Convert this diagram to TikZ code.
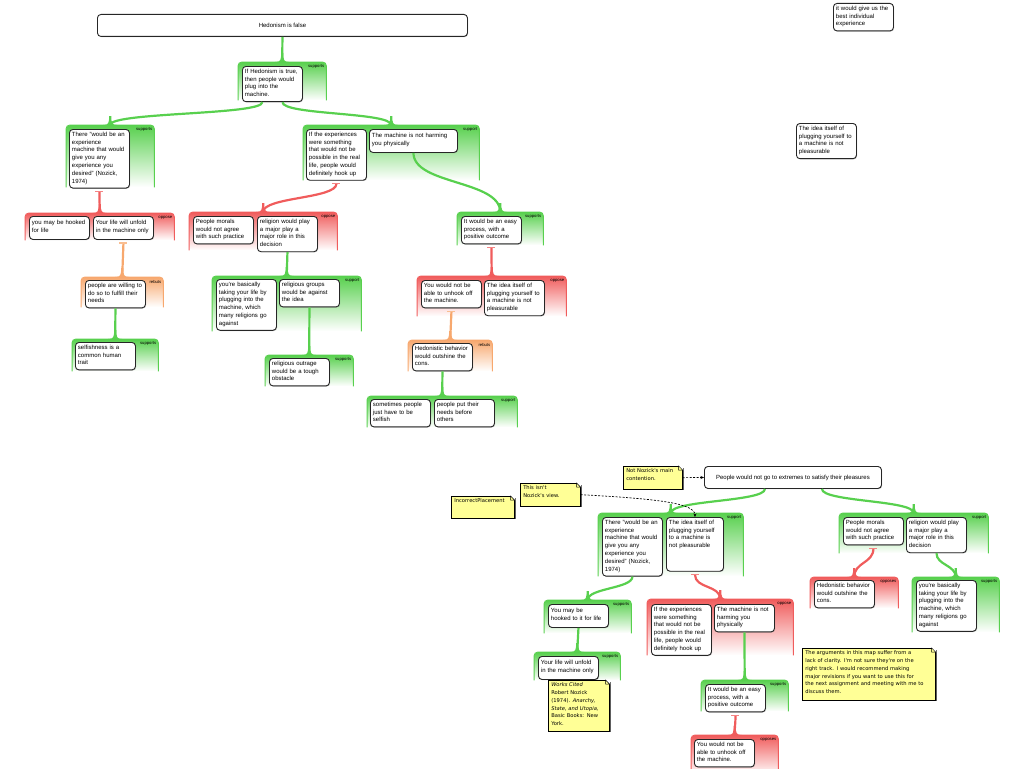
\documentclass[tikz,border=0pt]{standalone}
\usepackage{fontspec}
\setmainfont{Liberation Sans}
\newfontfamily\notefam{DejaVu Sans}
\usetikzlibrary{calc,shadows,arrows.meta}

\definecolor{supgreen}{RGB}{88,208,78}
\definecolor{oppred}{RGB}{240,92,92}
\definecolor{rebutorange}{RGB}{247,168,110}
\definecolor{noteyellow}{RGB}{255,255,150}

\tikzset{
  box/.style={draw=black!85, line width=0.9pt, fill=white, rounded corners=3.5pt,
    anchor=north west, font=\fontsize{6}{7.8}\selectfont,
    drop shadow={shadow xshift=0.7pt, shadow yshift=-0.7pt, opacity=0.45}},
  lastdp/.style={execute at end node={\rule[-#1]{0pt}{#1}}},
  claim/.style={box, align=left, text width=55pt, inner xsep=2.5pt, inner ysep=2.5pt,
    lastdp=2.5pt, minimum height=23pt},
  root/.style={box, align=center, inner sep=0pt, minimum height=22pt},
  grp/.style={anchor=north west, inner sep=0pt, rounded corners=4pt,
    top color=#1, bottom color=white},
  grplabel/.style={font=\fontsize{4.2}{5}\selectfont, inner sep=0pt, anchor=north east},
  note/.style={draw=black, line width=0.6pt, fill=noteyellow, anchor=north west,
    align=left, inner xsep=3pt, inner ysep=2.5pt,
    font=\notefam\fontsize{5.2}{7.8}\selectfont,
    drop shadow={shadow xshift=1.2pt, shadow yshift=-1.2pt, fill=black!70, opacity=0.9}},
  lnk/.style={draw=#1, line width=2.2pt},
  tbar/.style={draw=#1!75, line width=1.2pt},
  notelink/.style={draw=black, line width=0.7pt, dash pattern=on 2pt off 1.5pt,
    -{Stealth[length=3.5pt,width=3pt]}}
}

\begin{document}
\begin{tikzpicture}[x=1pt,y=-1pt]
  \useasboundingbox (0,0) rectangle (1024,768);

  % argument groups
  \node[grp=supgreen, minimum width=88pt, minimum height=38pt] (G1) at (238,62) {};
  \node[grp=supgreen, minimum width=88pt, minimum height=62pt] (G2) at (66,125) {};
  \node[grp=supgreen, minimum width=176pt, minimum height=55pt] (G3) at (303,125) {};
  \node[grp=oppred, minimum width=149pt, minimum height=27pt] (G4) at (25,213) {};
  \node[grp=rebutorange, minimum width=82pt, minimum height=30pt] (G5) at (81,277) {};
  \node[grp=supgreen, minimum width=86pt, minimum height=32pt] (G6) at (72,339) {};
  \node[grp=oppred, minimum width=148pt, minimum height=38pt] (G7) at (189,212) {};
  \node[grp=supgreen, minimum width=86pt, minimum height=33pt] (G8) at (457,212) {};
  \node[grp=supgreen, minimum width=149pt, minimum height=55pt] (G9) at (212,276) {};
  \node[grp=supgreen, minimum width=88pt, minimum height=31pt] (G10) at (265,355) {};
  \node[grp=oppred, minimum width=149pt, minimum height=40pt] (G11) at (417,276) {};
  \node[grp=rebutorange, minimum width=84pt, minimum height=31pt] (G12) at (408,340) {};
  \node[grp=supgreen, minimum width=150pt, minimum height=31pt] (G13) at (367,396) {};
  \node[grp=supgreen, minimum width=145pt, minimum height=63pt] (G14) at (598,513) {};
  \node[grp=supgreen, minimum width=149pt, minimum height=40pt] (G15) at (839,513) {};
  \node[grp=supgreen, minimum width=87pt, minimum height=33pt] (G16) at (544,600) {};
  \node[grp=supgreen, minimum width=86pt, minimum height=28pt] (G17) at (534,652) {};
  \node[grp=oppred, minimum width=146pt, minimum height=56pt] (G18) at (647,599) {};
  \node[grp=supgreen, minimum width=87pt, minimum height=31pt] (G19) at (701,680) {};
  \node[grp=oppred, minimum width=87pt, minimum height=40pt] (G20) at (691,735) {};
  \node[grp=oppred, minimum width=88pt, minimum height=31pt] (G21) at (810,577) {};
  \node[grp=supgreen, minimum width=87pt, minimum height=55pt] (G22) at (912,577) {};

  \foreach \g/\c/\t in {G1/supgreen/supports, G2/supgreen/supports, G3/supgreen/support,
      G4/oppred/oppose, G5/rebutorange/rebuts, G6/supgreen/supports, G7/oppred/oppose,
      G8/supgreen/supports, G9/supgreen/support, G10/supgreen/supports, G11/oppred/oppose,
      G12/rebutorange/rebuts, G13/supgreen/support, G14/supgreen/support,
      G15/supgreen/support, G16/supgreen/supports, G17/supgreen/supports,
      G18/oppred/oppose, G19/supgreen/supports, G20/oppred/opposes,
      G21/oppred/opposes, G22/supgreen/supports}{
    \draw[draw=\c, line width=1pt, rounded corners=4pt]
      (\g.south west) -- (\g.north west) -- (\g.north east) -- (\g.south east);
    \fill[fill=\c] ($(\g.north)+(-7,0)$) .. controls ($(\g.north)+(-1.5,0)$) and ($(\g.north)+(-1.1,-2)$) .. ($(\g.north)+(-1.1,-9)$)
      -- ($(\g.north)+(1.1,-9)$) .. controls ($(\g.north)+(1.1,-2)$) and ($(\g.north)+(1.5,0)$) .. ($(\g.north)+(7,0)$) -- cycle;
    \node[grplabel] (\g-l) at ($(\g.north east)+(-2,3)$) {\t};
  }

  % upper map
  \node[root, minimum width=370pt] (hed) at (97,14) {Hedonism is false};
  \node[claim] (b1) at (242,66) {If Hedonism is true,\\then people would\\plug into the\\machine.};
  \node[claim] (b2) at (69,129) {There "would be an\\experience\\machine that would\\give you any\\experience you\\desired" (Nozick,\\1974)};
  \node[claim] (b3) at (306,129) {If the experiences\\were something\\that would not be\\possible in the real\\life, people would\\definitely hook up};
  \node[claim, text width=83pt] (b4) at (369,129) {The machine is not harming\\you physically};
  \node[claim] (b5) at (29,216) {you may be hooked\\for life};
  \node[claim] (b6) at (93,216) {Your life will unfold\\in the machine only};
  \node[claim] (b7) at (85,280) {people are willing to\\do so to fulfill their\\needs};
  \node[claim] (b8) at (75,342) {selfishness is a\\common human\\trait};
  \node[claim] (b9) at (193,216) {People morals\\would not agree\\with such practice};
  \node[claim] (b10) at (257,216) {religion would play\\a major play a\\major role in this\\decision};
  \node[claim] (b11) at (461,216) {It would be an easy\\process, with a\\positive outcome};
  \node[claim] (b12) at (216,279) {you're basically\\taking your life by\\plugging into the\\machine, which\\many religions go\\against};
  \node[claim] (b13) at (279,279) {religious groups\\would be against\\the idea};
  \node[claim] (b14) at (269,358) {religious outrage\\would be a tough\\obstacle};
  \node[claim] (b15) at (421,280) {You would not be\\able to unhook off\\the machine.};
  \node[claim] (b16) at (484,280) {The idea itself of\\plugging yourself to\\a machine is not\\pleasurable};
  \node[claim] (b17) at (412,343) {Hedonistic behavior\\would outshine the\\cons.};
  \node[claim] (b18) at (370,399) {sometimes people\\just have to be\\selfish};
  \node[claim] (b19) at (434,399) {people put their\\needs before\\others};
  \node[claim] (b20) at (833,3) {it would give us the\\best individual\\experience};
  \node[claim] (b21) at (796,123) {The idea itself of\\plugging yourself to\\a machine is not\\pleasurable};

  \draw[lnk=supgreen] (hed.south) .. controls +(0,13) and +(0,-13) .. (G1.north);
  \draw[lnk=supgreen] ([xshift=-10pt]b1.south) .. controls +(0,13) and +(0,-13) .. (G2.north);
  \draw[lnk=supgreen] ([xshift=10pt]b1.south) .. controls +(0,13) and +(0,-13) .. (G3.north);
  \draw[lnk=oppred] ([yshift=-3pt]b2.south) .. controls +(0,12) and +(0,-12) .. (G4.north);
  \draw[tbar=oppred] ([yshift=-3pt]b2.south) +(-4,0) -- +(4,0);
  \draw[lnk=rebutorange] ([yshift=-3pt]b6.south) .. controls +(0,17) and +(0,-17) .. (G5.north);
  \draw[tbar=rebutorange] ([yshift=-3pt]b6.south) +(-4,0) -- +(4,0);
  \draw[lnk=supgreen] (b7.south) .. controls +(0,16) and +(0,-16) .. (G6.north);
  \draw[lnk=oppred] ([yshift=-3pt]b3.south) .. controls +(0,15) and +(0,-15) .. (G7.north);
  \draw[tbar=oppred] ([yshift=-3pt]b3.south) +(-4,0) -- +(4,0);
  \draw[lnk=supgreen] (b4.south) .. controls +(0,32) and +(0,-32) .. (G8.north);
  \draw[lnk=supgreen] (b10.south) .. controls +(0,12) and +(0,-12) .. (G9.north);
  \draw[lnk=supgreen] (b13.south) .. controls +(0,24) and +(0,-24) .. (G10.north);
  \draw[lnk=oppred] ([yshift=-3pt]b11.south) .. controls +(0,15) and +(0,-15) .. (G11.north);
  \draw[tbar=oppred] ([yshift=-3pt]b11.south) +(-4,0) -- +(4,0);
  \draw[lnk=rebutorange] ([yshift=-3pt]b15.south) .. controls +(0,15) and +(0,-15) .. (G12.north);
  \draw[tbar=rebutorange] ([yshift=-3pt]b15.south) +(-4,0) -- +(4,0);
  \draw[lnk=supgreen] (b17.south) .. controls +(0,13) and +(0,-13) .. (G13.north);

  % lower map
  \node[root, minimum width=177pt] (b22) at (704,466) {People would not go to extremes to satisfy their pleasures};
  \node[claim] (b23) at (602,517) {There "would be an\\experience\\machine that would\\give you any\\experience you\\desired" (Nozick,\\1974)};
  \node[claim, text width=52pt, lastdp=21pt] (b24) at (666,517) {The idea itself of\\plugging yourself\\to a machine is\\not pleasurable};
  \node[claim] (b25) at (843,517) {People morals\\would not agree\\with such practice};
  \node[claim] (b26) at (906,517) {religion would play\\a major play a\\major role in this\\decision};
  \node[claim] (b27) at (548,604) {You may be\\hooked to it for life};
  \node[claim] (b28) at (538,656) {Your life will unfold\\in the machine only};
  \node[claim] (b29) at (651,604) {If the experiences\\were something\\that would not be\\possible in the real\\life, people would\\definitely hook up};
  \node[claim] (b30) at (714,604) {The machine is not\\harming you\\physically};
  \node[claim] (b31) at (705,684) {It would be an easy\\process, with a\\positive outcome};
  \node[claim] (b32) at (694,739) {You would not be\\able to unhook off\\the machine.};
  \node[claim] (b33) at (814,580) {Hedonistic behavior\\would outshine the\\cons.};
  \node[claim] (b34) at (916,580) {you're basically\\taking your life by\\plugging into the\\machine, which\\many religions go\\against};

  \draw[lnk=supgreen] ([xshift=-28pt]b22.south) .. controls +(0,13) and +(0,-13) .. (G14.north);
  \draw[lnk=supgreen] ([xshift=29pt]b22.south) .. controls +(0,13) and +(0,-13) .. (G15.north);
  \draw[lnk=supgreen] (b23.south) .. controls +(0,12) and +(0,-12) .. (G16.north);
  \draw[lnk=supgreen] (b27.south) .. controls +(0,12) and +(0,-12) .. (G17.north);
  \draw[lnk=oppred] ([yshift=-3pt]b24.south) .. controls +(0,14) and +(0,-14) .. (G18.north);
  \draw[tbar=oppred] ([yshift=-3pt]b24.south) +(-4,0) -- +(4,0);
  \draw[lnk=supgreen] (b30.south) .. controls +(0,24) and +(0,-24) .. (G19.north);
  \draw[lnk=oppred] ([yshift=-3pt]b31.south) .. controls +(0,11) and +(0,-11) .. (G20.north);
  \draw[tbar=oppred] ([yshift=-3pt]b31.south) +(-4,0) -- +(4,0);
  \draw[lnk=oppred] ([yshift=-3pt]b25.south) .. controls +(0,15) and +(0,-15) .. (G21.north);
  \draw[tbar=oppred] ([yshift=-3pt]b25.south) +(-4,0) -- +(4,0);
  \draw[lnk=supgreen] (b26.south) .. controls +(0,12) and +(0,-12) .. (G22.north);

  % notes
  \node[note, text width=53pt, lastdp=6pt] (n1) at (623,466) {Not Nozick's main\\contention.};
  \node[note, text width=54pt, lastdp=6pt] (n2) at (520,483) {This isn't\\Nozick's view.};
  \node[note, text width=57pt, lastdp=13pt] (n3) at (451,496) {IncorrectPlacement};
  \node[note, text width=55pt, lastdp=3pt] (n4) at (548,680) {\textit{Works Cited}\\Robert Nozick\\(1974). \textit{Anarchy,}\\\textit{State, and Utopia,}\\Basic Books: New\\York.};
  \node[note, text width=127pt, lastdp=4pt] (n5) at (802,648) {The arguments in this map suffer from a\\lack of clarity. I'm not sure they're on the\\right track. I would recommend making\\major revisions if you want to use this for\\the next assignment and meeting with me to\\discuss them.};

  \foreach \n in {n1,n2,n3,n4,n5}{
    \fill[white] ($(\n.north east)+(-4.5,-0.6)$) -- ($(\n.north east)+(0.6,-0.6)$) -- ($(\n.north east)+(0.6,4.5)$) -- cycle;
    \draw[line width=0.5pt] ($(\n.north east)+(-4,0)$) -- ($(\n.north east)+(0,4)$) -- ($(\n.north east)+(-4,4)$) -- cycle;
  }

  \draw[notelink] (n1.east) -- (b22.west);
  \draw[notelink] (n2.east) .. controls +(75,4) and +(0,-14) .. (b24.north);
\end{tikzpicture}
\end{document}
